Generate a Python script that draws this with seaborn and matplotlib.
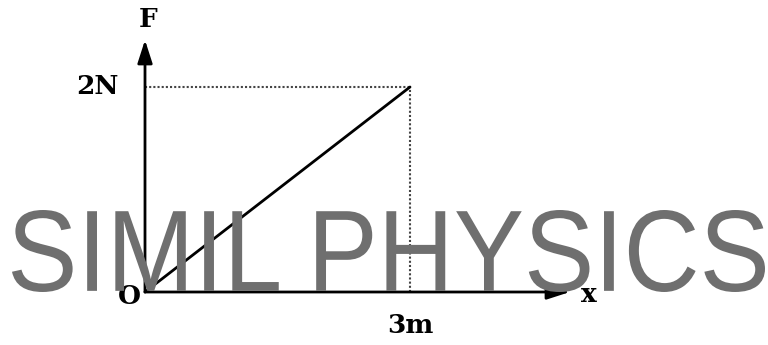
import matplotlib
matplotlib.use("Agg")
import matplotlib.pyplot as plt
import seaborn as sns
import pandas as pd
from matplotlib.textpath import TextPath
from matplotlib.patches import PathPatch
from matplotlib.font_manager import FontProperties
from matplotlib.transforms import Affine2D

# F-x graph data
x_m = [0, 3]
force_n = [0, 2]
x_ticks = [3]
x_tick_labels = ['3m']
y_ticks = [2]
y_tick_labels = ['2N']
watermark = 'SIMIL PHYSICS'

sns.set_style('white')
plt.rcParams['font.family'] = ['DejaVu Serif']

W, H = 768, 345
fig = plt.figure(figsize=(W / 100, H / 100), dpi=100)
ax = fig.add_axes([0, 0, 1, 1])

# pixel scale: origin at (145, 292), 3 m -> 410 px, 2 N -> 87 px
sx = (410 - 145) / 3
sy = (292 - 87) / 2
ax.set_xlim(-145 / sx, (W - 145) / sx)
ax.set_ylim(-(H - 292) / sy, 292 / sy)
ax.axis('off')

# watermark, squeezed to fit the width like the reference
tp = TextPath((0, 0), watermark, size=1, prop=FontProperties(family='Liberation Sans'))
ext = tp.get_extents()
left, right, top, bottom = 12, 765, 210, 292
kx = (right - left) / ext.width
ky = (bottom - top) / ext.height
tr = (Affine2D().translate(-ext.x0, -ext.y0).scale(kx, ky)
      .translate(left, H - bottom).scale(1 / W, 1 / H) + fig.transFigure)
fig.patches.append(PathPatch(tp, transform=tr, facecolor='#6f6f6f',
                             edgecolor='none', zorder=0))

df = pd.DataFrame({'x': x_m, 'F': force_n})
sns.lineplot(data=df, x='x', y='F', ax=ax, color='black', lw=2, zorder=3)

# dotted guides
ax.plot([0, x_m[1]], [force_n[1], force_n[1]], color='#444444', lw=1.5,
        ls=(0, (1, 1)), zorder=2)
ax.plot([x_m[1], x_m[1]], [0, force_n[1]], color='#444444', lw=1.5,
        ls=(0, (1, 1)), zorder=2)

# axes with arrows
xmax = (570 - 145) / sx
ymax = (292 - 40) / sy
ax.annotate('', xy=(xmax, 0), xytext=(0, 0),
            arrowprops=dict(arrowstyle='-|>,head_length=1.4,head_width=0.45',
                            color='black', lw=2, shrinkA=0, shrinkB=0), zorder=4)
ax.annotate('', xy=(0, ymax), xytext=(0, 0),
            arrowprops=dict(arrowstyle='-|>,head_length=1.4,head_width=0.45',
                            color='black', lw=2, shrinkA=0, shrinkB=0), zorder=4)

bold = dict(fontsize=19, fontweight='bold', color='black')
ax.text(0.03, ymax + 0.08, 'F', ha='center', va='bottom', **bold)
ax.text(xmax + 0.12, -0.02, 'x', ha='left', va='center', **bold)
ax.text(-0.05, -0.04, 'O', ha='right', va='center', **bold)
for t, lab in zip(y_ticks, y_tick_labels):
    ax.text(-0.3, t, lab, ha='right', va='center', **bold)
for t, lab in zip(x_ticks, x_tick_labels):
    ax.text(t, -0.33, lab, ha='center', va='center', **bold)

fig.savefig('out.png', dpi=100)
